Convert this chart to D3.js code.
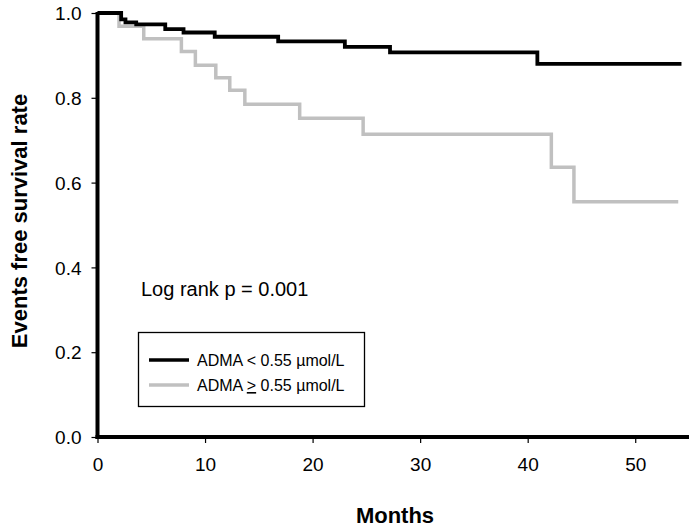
<!DOCTYPE html>
<html><head><meta charset="utf-8">
<script src="https://cdn.jsdelivr.net/npm/d3@7"></script>
<style>body{margin:0;background:#fff}svg{display:block}</style>
</head><body><svg id="c" width="696" height="530"></svg>
<script>
// step survival curves: time (months) at which each value starts
const lowTimes  = [0, 2.2, 2.6, 3.6, 6.3, 8.0, 10.9, 16.8, 23.0, 27.2, 40.9];
const lowValues = [1.0, 0.985, 0.978, 0.973, 0.962, 0.954, 0.944, 0.933, 0.920, 0.907, 0.880];
const lowEnd = 54.3;
const highTimes  = [0, 2.0, 4.3, 7.8, 9.1, 11.0, 12.3, 13.7, 18.8, 24.7, 42.2, 44.3];
const highValues = [1.0, 0.969, 0.939, 0.909, 0.877, 0.847, 0.818, 0.785, 0.752, 0.714, 0.636, 0.555];
const highEnd = 54.0;
const xTicks = [0, 10, 20, 30, 40, 50];
const yTicks = [0, 0.2, 0.4, 0.6, 0.8, 1.0];
// legend labels split as [before, underlined symbol, after]
const legendLabels = [["ADMA < 0.55 \u00b5mol/L", "", ""], ["ADMA ", ">", " 0.55 \u00b5mol/L"]];

const font = "'Liberation Sans', Arial, sans-serif";
const svg = d3.select("#c");
const x = d3.scaleLinear().domain([0, 55]).range([97.5, 689]);
const y = d3.scaleLinear().domain([0, 1]).range([437, 13]);

function pts(times, vals, end) {
  const p = times.map((t, i) => [t, vals[i]]);
  p.push([end, vals[vals.length - 1]]);
  return p;
}
const line = d3.line().x(d => x(d[0])).y(d => y(d[1])).curve(d3.curveStepAfter);

svg.append("path").attr("d", line(pts(highTimes, highValues, highEnd)))
  .attr("fill", "none").attr("stroke", "#c0c0c0").attr("stroke-width", 3.5);
svg.append("path").attr("d", line(pts(lowTimes, lowValues, lowEnd)))
  .attr("fill", "none").attr("stroke", "#000").attr("stroke-width", 3.8);

// axes
const xAxis = svg.append("g").attr("transform", "translate(0,437)")
  .call(d3.axisBottom(x).tickValues(xTicks).tickFormat(d3.format("d")).tickSize(6).tickSizeOuter(0));
const yAxis = svg.append("g").attr("transform", "translate(97.5,0)")
  .call(d3.axisLeft(y).tickValues(yTicks).tickFormat(d3.format(".1f")).tickSize(6).tickSizeOuter(0));
[xAxis, yAxis].forEach(g => {
  g.select(".domain").remove();
  g.selectAll(".tick line").attr("stroke", "#000").attr("stroke-width", 1.2);
  g.selectAll(".tick text").attr("font-family", font).attr("font-size", 19).attr("fill", "#000");
});
xAxis.selectAll(".tick text").attr("dy", null).attr("y", 34);
yAxis.selectAll(".tick text").attr("x", -16).attr("dy", "0.35em");

svg.append("line").attr("x1", x(0)).attr("x2", x(0)).attr("y1", y(1) - 1).attr("y2", y(0) + 2)
  .attr("stroke", "#000").attr("stroke-width", 4);
svg.append("line").attr("x1", x(0) - 2).attr("x2", x(55)).attr("y1", y(0)).attr("y2", y(0))
  .attr("stroke", "#000").attr("stroke-width", 4);

// labels
svg.append("text").attr("transform", "translate(27,221) rotate(-90)")
  .attr("text-anchor", "middle").attr("font-family", font).attr("font-weight", "bold")
  .attr("font-size", 22).text("Events free survival rate");
svg.append("text").attr("x", 395).attr("y", 523).attr("text-anchor", "middle")
  .attr("font-family", font).attr("font-weight", "bold").attr("font-size", 22).text("Months");
svg.append("text").attr("x", 141).attr("y", 296).attr("font-family", font)
  .attr("font-size", 20).text("Log rank p = 0.001");

// legend
svg.append("rect").attr("x", 138.5).attr("y", 332.5).attr("width", 226).attr("height", 74)
  .attr("fill", "#fff").attr("stroke", "#000").attr("stroke-width", 1.3);
const lcolors = ["#000", "#c0c0c0"];
legendLabels.forEach((lab, i) => {
  const ly = 360 + i * 25;
  svg.append("line").attr("x1", 149).attr("x2", 189).attr("y1", ly).attr("y2", ly)
    .attr("stroke", lcolors[i]).attr("stroke-width", 3.5);
  const t = svg.append("text").attr("x", 197).attr("y", ly + 6).attr("font-family", font)
    .attr("font-size", 16);
  t.append("tspan").text(lab[0]);
  if (lab[1]) t.append("tspan").attr("text-decoration", "underline").text(lab[1]);
  if (lab[2]) t.append("tspan").text(lab[2]);
});
</script></body></html>
